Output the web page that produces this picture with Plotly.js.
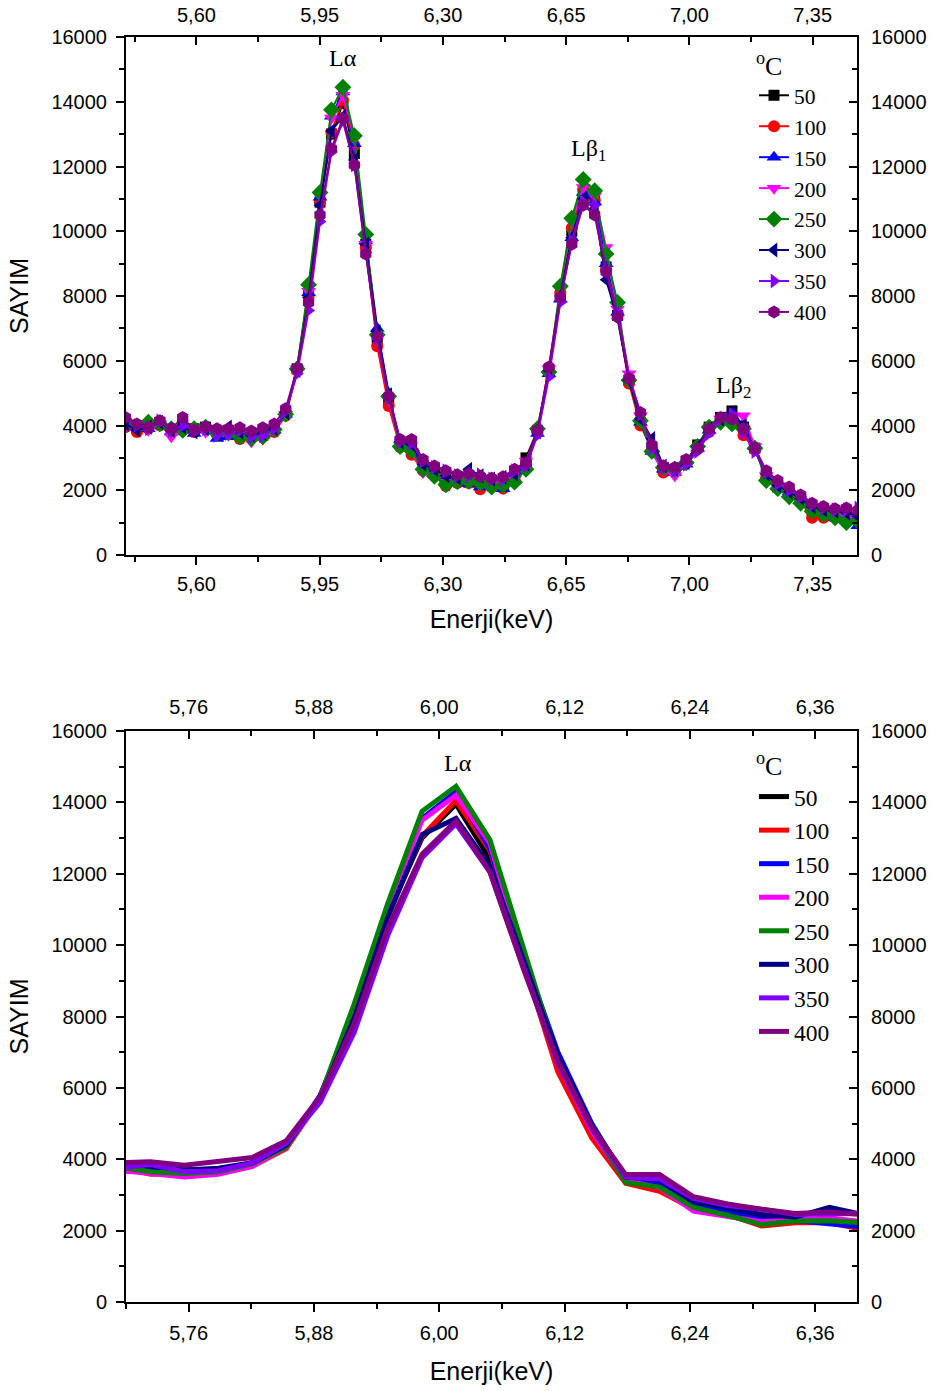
<!DOCTYPE html>
<html>
<head>
<meta charset="utf-8">
<script src="https://cdn.plot.ly/plotly-3.0.1.min.js"></script>
<style>html,body{margin:0;padding:0;background:#fff;}</style>
</head>
<body>
<div id="chart" style="width:938px;height:1391px;"></div>
<script>
// Energy channels (keV)
const energy = [5.3985, 5.4310, 5.4635, 5.4960, 5.5285, 5.5610, 5.5935, 5.6260, 5.6585, 5.6910,
  5.7235, 5.7560, 5.7885, 5.8210, 5.8535, 5.8860, 5.9185, 5.9510, 5.9835, 6.0160,
  6.0485, 6.0810, 6.1135, 6.1460, 6.1785, 6.2110, 6.2435, 6.2760, 6.3085, 6.3410,
  6.3735, 6.4060, 6.4385, 6.4710, 6.5035, 6.5360, 6.5685, 6.6010, 6.6335, 6.6660,
  6.6985, 6.7310, 6.7635, 6.7960, 6.8285, 6.8610, 6.8935, 6.9260, 6.9585, 6.9910,
  7.0235, 7.0560, 7.0885, 7.1210, 7.1535, 7.1860, 7.2185, 7.2510, 7.2835, 7.3160,
  7.3485, 7.3810, 7.4135, 7.4460, 7.4785];

// Counts (SAYIM) per temperature (°C)
const s50 = [4100, 3900, 4000, 4100, 3850, 4000, 3900, 3950, 3800, 3850,
  3750, 3700, 3700, 3900, 4400, 5750, 8050, 10900, 13000, 13950,
  12400, 9600, 6600, 4750, 3450, 3300, 2700, 2550, 2350, 2300,
  2250, 2150, 2250, 2200, 2400, 3000, 3850, 5700, 8000, 10000,
  11100, 11000, 8900, 7400, 5400, 4100, 3300, 2700, 2650, 2900,
  3400, 3950, 4250, 4450, 3950, 3300, 2450, 2100, 1900, 1700,
  1400, 1300, 1200, 1200, 1150];
const s100 = [3950, 3800, 3900, 4000, 3900, 3850, 3800, 3950, 3850, 3800,
  3580, 3600, 3650, 3800, 4300, 5700, 8000, 10900, 13050, 14050,
  12650, 9500, 6450, 4600, 3330, 3100, 2600, 2450, 2130, 2220,
  2220, 2030, 2100, 2050, 2350, 2800, 3800, 5800, 8100, 10100,
  11300, 10950, 8800, 7400, 5300, 4000, 3250, 2550, 2600, 2850,
  3300, 3800, 4150, 4250, 3700, 3250, 2400, 2100, 1850, 1650,
  1150, 1150, 1200, 1150, 1100];
const s150 = [4050, 3950, 3900, 4000, 3800, 3900, 3750, 3850, 3600, 3650,
  3700, 3650, 3700, 3850, 4350, 5800, 8100, 11050, 13550, 14300,
  12700, 9700, 7000, 5000, 3450, 3300, 2700, 2500, 2300, 2280,
  2200, 2100, 2150, 2050, 2300, 2700, 3750, 5600, 7900, 9800,
  11200, 10900, 9000, 7500, 5500, 4100, 3200, 2650, 2550, 2800,
  3300, 3850, 4150, 4300, 4050, 3350, 2400, 2100, 1950, 1700,
  1450, 1300, 1150, 1100, 900];
const s200 = [4000, 3900, 3850, 4050, 3650, 3900, 3850, 3800, 3750, 3700,
  3600, 3500, 3580, 3800, 4350, 5750, 8150, 11100, 13500, 14200,
  12850, 9600, 6700, 4800, 3400, 3200, 2550, 2400, 2250, 2300,
  2350, 2250, 2200, 2150, 2350, 2900, 3800, 5750, 8200, 10300,
  11350, 11100, 9500, 7600, 5600, 4300, 3150, 2600, 2450, 2800,
  3300, 3850, 4200, 4300, 4300, 3350, 2450, 2150, 1850, 1650,
  1400, 1200, 1150, 1200, 1100];
const s250 = [4150, 3950, 4100, 4050, 3900, 3850, 3900, 3950, 3750, 3800,
  3650, 3600, 3650, 3880, 4350, 5750, 8350, 11200, 13750, 14450,
  12950, 9900, 6800, 4900, 3350, 3220, 2650, 2430, 2170, 2270,
  2280, 2220, 2100, 2150, 2250, 2650, 3900, 5650, 8300, 10400,
  11600, 11250, 9300, 7800, 5400, 4150, 3200, 2700, 2650, 2850,
  3350, 3950, 4100, 4050, 3900, 3300, 2300, 2050, 1800, 1600,
  1350, 1250, 1150, 1000, 1050];
const s300 = [4050, 3850, 3950, 4100, 3850, 3950, 3800, 3900, 3800, 3950,
  3800, 3700, 3750, 3900, 4400, 5700, 7950, 10800, 13100, 13550,
  12200, 9600, 6900, 4950, 3500, 3420, 2800, 2650, 2450, 2380,
  2650, 2450, 2350, 2400, 2500, 2800, 3800, 5700, 8000, 9800,
  11000, 10700, 8500, 7300, 5400, 4200, 3600, 2750, 2650, 2850,
  3350, 3900, 4200, 4400, 4000, 3250, 2500, 2150, 1950, 1750,
  1500, 1400, 1350, 1300, 1200];
const s350 = [4200, 4000, 3900, 4150, 3850, 4000, 3850, 3900, 3700, 3750,
  3850, 3650, 3680, 3900, 4450, 5600, 7550, 10300, 12450, 13400,
  12050, 9350, 6700, 4850, 3500, 3450, 2900, 2700, 2600, 2450,
  2450, 2480, 2350, 2350, 2600, 2750, 3700, 5500, 7800, 9700,
  10900, 10800, 8800, 7500, 5500, 4350, 3300, 2700, 2600, 2800,
  3200, 3750, 4200, 4350, 3800, 3200, 2550, 2200, 2000, 1800,
  1550, 1450, 1400, 1400, 1450];
const s400 = [4250, 4050, 3950, 4150, 3900, 4250, 3850, 3950, 3900, 3900,
  3930, 3830, 3930, 4050, 4520, 5760, 7800, 10500, 12550, 13480,
  12050, 9300, 6750, 4900, 3570, 3570, 2950, 2750, 2600, 2480,
  2520, 2430, 2370, 2420, 2650, 2850, 3850, 5800, 7950, 9600,
  10800, 10500, 8750, 7350, 5450, 4400, 3400, 2750, 2700, 2950,
  3300, 3900, 4250, 4200, 3900, 3300, 2600, 2300, 2100, 1850,
  1600, 1500, 1430, 1450, 1380];

const seriesNames = ['50', '100', '150', '200', '250', '300', '350', '400'];
const seriesData = [s50, s100, s150, s200, s250, s300, s350, s400];
const colors = ['#000000', '#ff0000', '#0000ff', '#ff00ff', '#008000', '#000080', '#8000ff', '#800080'];
const symbols = ['square', 'circle', 'triangle-up', 'triangle-down', 'diamond', 'triangle-left', 'triangle-right', 'hexagon'];
const msizes = [11, 12, 13, 13, 13, 13, 13, 13];

const peakLabels = ['Lα', 'Lβ<sub>1</sub>', 'Lβ<sub>2</sub>'];
const peakX = [6.016, 6.714, 7.126];
const peakY = [15340, 12500, 5190];

const traces = [];
seriesData.forEach((ys, i) => {
  traces.push({
    x: energy, y: ys, name: seriesNames[i], type: 'scatter', mode: 'lines+markers',
    xaxis: 'x', yaxis: 'y', legend: 'legend',
    line: {color: colors[i], width: 2},
    marker: {symbol: symbols[i], size: msizes[i], color: colors[i], line: {width: 0}}
  });
});
seriesData.forEach((ys, i) => {
  traces.push({
    x: energy, y: ys, name: seriesNames[i], type: 'scatter', mode: 'lines',
    xaxis: 'x2', yaxis: 'y2', legend: 'legend2',
    line: {color: colors[i], width: 5}
  });
});
// carriers for the mirrored (top / right) axes
traces.push({x: [null], y: [null], xaxis: 'x3', yaxis: 'y3', showlegend: false, hoverinfo: 'skip', mode: 'markers'});
traces.push({x: [null], y: [null], xaxis: 'x4', yaxis: 'y4', showlegend: false, hoverinfo: 'skip', mode: 'markers'});

const tickFont = {family: 'Liberation Sans, Arial, sans-serif', size: 20, color: '#000'};
const titleFont = {family: 'Liberation Sans, Arial, sans-serif', size: 25, color: '#000'};
const serif = 'Liberation Serif, Times New Roman, serif';

const xDom = [126 / 938, 857 / 938];
const yDomTop = [1 - 555 / 1391, 1 - 37 / 1391];
const yDomBot = [1 - 1302 / 1391, 1 - 731 / 1391];
const rangeTop = [5.40, 7.476];
const rangeBot = [5.70, 6.40];

function xAx(range, tick0, dtick, mtick0, mdtick, side, ticks, extra) {
  return Object.assign({
    range: range, domain: xDom, side: side, showgrid: false, zeroline: false,
    showline: true, linecolor: '#000', linewidth: 2,
    ticks: ticks, ticklen: 8, tickwidth: 2, tickcolor: '#000',
    tick0: tick0, dtick: dtick, tickformat: '.2f', tickfont: tickFont,
    minor: {tick0: mtick0, dtick: mdtick, ticks: ticks, ticklen: 5, tickwidth: 2, tickcolor: '#000', showgrid: false},
    fixedrange: true
  }, extra);
}
function yAx(domain, side, ticks, extra) {
  return Object.assign({
    range: [0, 16000], domain: domain, side: side, showgrid: false, zeroline: false,
    showline: true, linecolor: '#000', linewidth: 2,
    ticks: ticks, ticklen: 8, tickwidth: 2, tickcolor: '#000',
    tick0: 0, dtick: 2000, tickformat: 'd', tickfont: tickFont,
    minor: {tick0: 0, dtick: 1000, ticks: ticks, ticklen: 5, tickwidth: 2, tickcolor: '#000', showgrid: false},
    fixedrange: true
  }, extra);
}

const legendBase = {
  xanchor: 'left', yanchor: 'top', bgcolor: 'rgba(0,0,0,0)', borderwidth: 0,
  title: {text: '<sup>o</sup>C', font: {family: serif, size: 26, color: '#000'}},
  traceorder: 'normal', itemwidth: 30
};

const annotations = peakLabels.map((t, i) => ({
  x: peakX[i], y: peakY[i], xref: 'x', yref: 'y', text: t, showarrow: false,
  font: {family: serif, size: 24, color: '#000'}
}));
annotations.push({
  x: 6.018, y: 15100, xref: 'x2', yref: 'y2', text: peakLabels[0], showarrow: false,
  font: {family: serif, size: 24, color: '#000'}
});

const layout = {
  width: 938, height: 1391,
  margin: {l: 0, r: 0, t: 0, b: 0, pad: 0},
  paper_bgcolor: '#fff', plot_bgcolor: 'rgba(0,0,0,0)',
  separators: ',.',
  showlegend: true,
  xaxis: xAx(rangeTop, 5.60, 0.35, 5.425, 0.175, 'bottom', 'outside',
    {anchor: 'y', title: {text: 'Enerji(keV)', font: titleFont, standoff: 16}, ticklabelstandoff: 2}),
  yaxis: yAx(yDomTop, 'left', 'outside',
    {anchor: 'x', title: {text: 'SAYIM', font: titleFont, standoff: 16}, ticklabelstandoff: 5}),
  xaxis3: xAx(rangeTop, 5.60, 0.35, 5.425, 0.175, 'top', 'inside',
    {anchor: 'y', overlaying: 'x', ticklabelstandoff: 5}),
  yaxis3: yAx(yDomTop, 'right', 'inside',
    {anchor: 'x', overlaying: 'y', ticklabelstandoff: 8}),
  xaxis2: xAx(rangeBot, 5.76, 0.12, 5.70, 0.06, 'bottom', 'outside',
    {anchor: 'y2', title: {text: 'Enerji(keV)', font: titleFont, standoff: 19}, ticklabelstandoff: 4}),
  yaxis2: yAx(yDomBot, 'left', 'outside',
    {anchor: 'x2', title: {text: 'SAYIM', font: titleFont, standoff: 16}, ticklabelstandoff: 5}),
  xaxis4: xAx(rangeBot, 5.76, 0.12, 5.70, 0.06, 'top', 'inside',
    {anchor: 'y2', overlaying: 'x2', ticklabelstandoff: 7}),
  yaxis4: yAx(yDomBot, 'right', 'inside',
    {anchor: 'x2', overlaying: 'y2', ticklabelstandoff: 8}),
  legend: Object.assign({}, legendBase, {x: 754 / 938, y: 1 - 41 / 1391,
    font: {family: serif, size: 21.5, color: '#000'}}),
  legend2: Object.assign({}, legendBase, {x: 754 / 938, y: 1 - 741 / 1391,
    font: {family: serif, size: 23.5, color: '#000'}}),
  annotations: annotations
};

Plotly.newPlot('chart', traces, layout, {displayModeBar: false, staticPlot: true});
</script>
</body>
</html>
